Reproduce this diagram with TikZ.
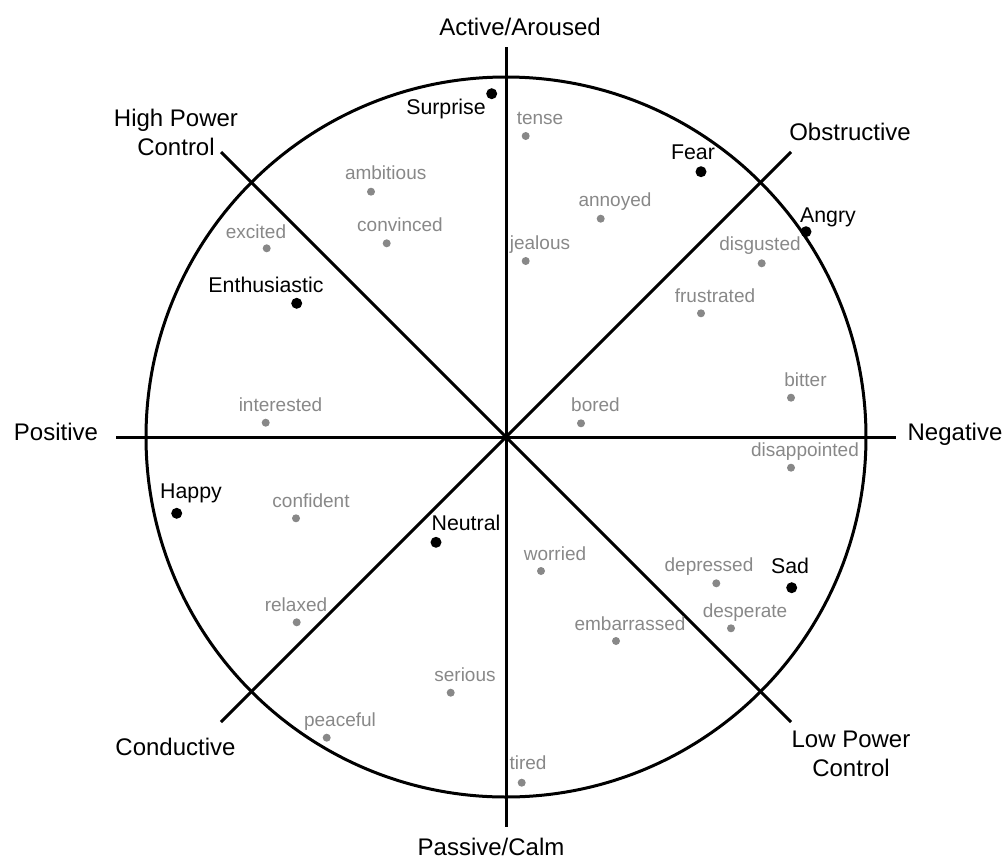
\documentclass[tikz,border=0pt]{standalone}
\usepackage{fontspec}
\setmainfont{Liberation Sans}
\definecolor{lblgray}{RGB}{136,136,136}
\begin{document}
\begin{tikzpicture}[x=0.75pt,y=-0.75pt,
  axis/.style={line width=2.25pt},
  axislabel/.style={font=\fontsize{18}{21.75}\selectfont, inner sep=0pt, anchor=base, align=center},
  emo/.style={font=\fontsize{16}{19}\selectfont, inner sep=0pt, anchor=base},
  sub/.style={font=\fontsize{14.25}{17}\selectfont, text=lblgray, inner sep=0pt, anchor=base},
  bigdot/.style={circle, fill=black, inner sep=0pt, minimum size=8.25pt},
  smalldot/.style={circle, fill=lblgray, inner sep=0pt, minimum size=6pt}]
\useasboundingbox (0,0) rectangle (1008,861);

% frame
\coordinate (O) at (506,437);
\coordinate (topend) at (506,47);
\coordinate (botend) at (506,827);
\coordinate (leftend) at (116,437);
\coordinate (rightend) at (896,437);
\coordinate (hpc) at (221,152);
\coordinate (lpc) at (791,722);
\coordinate (obs) at (791,152);
\coordinate (con) at (221,722);
\draw[axis] (O) circle[radius=360];
\draw[axis] (topend) -- (botend);
\draw[axis] (leftend) -- (rightend);
\draw[axis] (hpc) -- (lpc);
\draw[axis] (obs) -- (con);

% axis labels
\node[axislabel] (lActive) at (520,35.7) {Active/Aroused};
\node[axislabel] (lPassive) at (491,855) {Passive/Calm};
\node[axislabel] (lPositive) at (56,440) {Positive};
\node[axislabel] (lNegative) at (955,440) {Negative};
\node[axislabel] (lObstructive) at (850,140.7) {Obstructive};
\node[axislabel] (lConductive) at (175.5,755) {Conductive};
\node[axislabel] (lHigh) at (176,155) {High Power\\Control};
\node[axislabel] (lLow) at (851,776.7) {Low Power\\Control};

% main emotions
\node[bigdot] (dSurprise) at (491.7,93.7) {};
\node[emo] (tSurprise) at (446,114.3) {Surprise};
\node[bigdot] (dFear) at (701,171.7) {};
\node[emo] (tFear) at (693,159) {Fear};
\node[bigdot] (dAngry) at (806,231.7) {};
\node[emo] (tAngry) at (828,222.3) {Angry};
\node[bigdot] (dEnth) at (296.7,303.3) {};
\node[emo] (tEnth) at (266,292.3) {Enthusiastic};
\node[bigdot] (dHappy) at (176.7,513.3) {};
\node[emo] (tHappy) at (191,498.3) {Happy};
\node[bigdot] (dNeutral) at (436,542.3) {};
\node[emo] (tNeutral) at (466,530) {Neutral};
\node[bigdot] (dSad) at (791.7,587.7) {};
\node[emo] (tSad) at (790,573.3) {Sad};

% secondary emotions
\node[smalldot] (dtense) at (525.7,136) {};
\node[sub] (ttense) at (540,124.3) {tense};
\node[smalldot] (dambitious) at (371,191.7) {};
\node[sub] (tambitious) at (385.7,179.3) {ambitious};
\node[smalldot] (dconvinced) at (386.7,243.3) {};
\node[sub] (tconvinced) at (400,231.7) {convinced};
\node[smalldot] (dannoyed) at (600.7,218.7) {};
\node[sub] (tannoyed) at (615,206) {annoyed};
\node[smalldot] (djealous) at (525.7,261) {};
\node[sub] (tjealous) at (540,249.3) {jealous};
\node[smalldot] (dexcited) at (266.7,248.3) {};
\node[sub] (texcited) at (256,238.3) {excited};
\node[smalldot] (ddisgusted) at (761.7,263.3) {};
\node[sub] (tdisgusted) at (760,250) {disgusted};
\node[smalldot] (dfrustrated) at (701,313.3) {};
\node[sub] (tfrustrated) at (715,302.3) {frustrated};
\node[smalldot] (dinterested) at (265.7,422.7) {};
\node[sub] (tinterested) at (280.5,411.7) {interested};
\node[smalldot] (dbored) at (581,423.3) {};
\node[sub] (tbored) at (595.5,411.7) {bored};
\node[smalldot] (dbitter) at (791,397.7) {};
\node[sub] (tbitter) at (805.5,386) {bitter};
\node[smalldot] (ddisappointed) at (791,467.7) {};
\node[sub] (tdisappointed) at (805,456.7) {disappointed};
\node[smalldot] (dconfident) at (296,518.3) {};
\node[sub] (tconfident) at (311,507.3) {confident};
\node[smalldot] (dworried) at (541,571) {};
\node[sub] (tworried) at (555,560) {worried};
\node[smalldot] (ddepressed) at (716.3,583.3) {};
\node[sub] (tdepressed) at (709,571.7) {depressed};
\node[smalldot] (ddesperate) at (731,628.3) {};
\node[sub] (tdesperate) at (745,617.7) {desperate};
\node[smalldot] (dembarrassed) at (616,641) {};
\node[sub] (tembarrassed) at (630,630.7) {embarrassed};
\node[smalldot] (drelaxed) at (296.7,622.3) {};
\node[sub] (trelaxed) at (296,611) {relaxed};
\node[smalldot] (dserious) at (450.7,692.7) {};
\node[sub] (tserious) at (465,681.7) {serious};
\node[smalldot] (dpeaceful) at (326.7,737.7) {};
\node[sub] (tpeaceful) at (340,726.7) {peaceful};
\node[smalldot] (dtired) at (521.7,782.7) {};
\node[sub] (ttired) at (528,769.3) {tired};
\end{tikzpicture}
\end{document}
